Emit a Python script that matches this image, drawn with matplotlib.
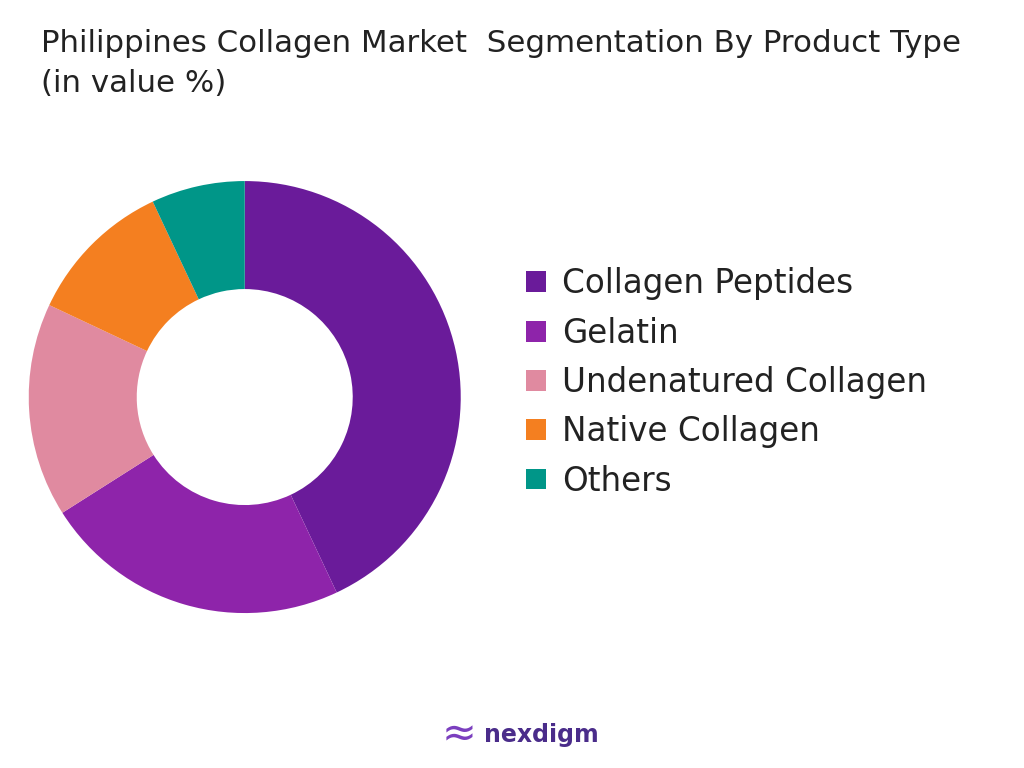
import matplotlib.pyplot as plt
from matplotlib.patches import Patch

labels = ['Collagen Peptides', 'Gelatin', 'Undenatured Collagen', 'Native Collagen', 'Others']
shares = [43, 23, 16, 11, 7]
colors = ['#6A1B9A', '#8E24AA', '#E08AA0', '#F47F20', '#009688']

plt.rcParams['font.family'] = ['DejaVu Sans']
fig = plt.figure(figsize=(10.24, 7.68), dpi=100)

ax = fig.add_axes([0.239 - 0.211, 0.483 - 0.28125, 0.422, 0.5625])
ax.pie(shares, colors=colors, startangle=90, counterclock=False,
       wedgeprops=dict(width=0.5, linewidth=0))
ax.set_xlim(-1, 1)
ax.set_ylim(-1, 1)
ax.set_aspect('equal')

fig.text(0.04, 0.962, 'Philippines Collagen Market  Segmentation By Product Type\n(in value %)',
         fontsize=22.2, va='top', ha='left', color='#222222', linespacing=1.45)

handles = [Patch(facecolor=c, label=l) for c, l in zip(colors, labels)]
fig.legend(handles=handles, loc='center left', bbox_to_anchor=(0.485, 0.502), frameon=False,
           fontsize=23.5, handlelength=0.6, handleheight=0.6, labelspacing=0.5,
           handletextpad=0.5, labelcolor='#222222')

fig.text(0.448, 0.043, '\u2248', fontsize=30, color='#7B3FBF', ha='center', va='center')
fig.text(0.473, 0.043, 'nexdigm', fontsize=17, fontweight='bold', color='#4A2C8A',
         ha='left', va='center')

fig.savefig('out.png', dpi=100)
